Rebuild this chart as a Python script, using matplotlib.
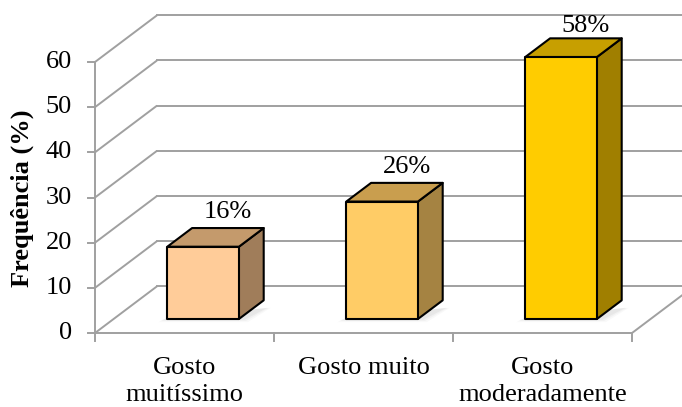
import matplotlib
matplotlib.use("Agg")
import matplotlib.pyplot as plt
from matplotlib.patches import Polygon

# Data
categories = ["Gosto\nmuitíssimo", "Gosto muito", "Gosto\nmoderadamente"]
values = [16, 26, 58]
value_labels = ["16%", "26%", "58%"]
y_ticks = [0, 10, 20, 30, 40, 50, 60]

# Styles
front_colors = ["#FFCC99", "#FFCC66", "#FFCC00"]
top_colors = ["#C49A6C", "#C99E4E", "#C79F00"]
side_colors = ["#A07D5A", "#A58342", "#A07F00"]
grid_color = "#A0A0A0"
serif = ["Liberation Serif", "DejaVu Serif"]
FS = 19

W, H = 682, 407
fig = plt.figure(figsize=(W / 100, H / 100), dpi=100)
# front plane of the plot: x 0..3 (categories), y 0..60 (values)
left_px, right_px, bottom_px, top_px = 95, 632, 333, 62
ax = fig.add_axes([left_px / W, 1 - bottom_px / H,
                   (right_px - left_px) / W, (bottom_px - top_px) / H])
ax.set_xlim(0, 3)
ax.set_ylim(0, 60)
ax.axis("off")

px_x = (right_px - left_px) / 3.0
px_y = (bottom_px - top_px) / 60.0
DX = 62 / px_x      # depth offset along x (data units)
DY = 46.7 / px_y    # depth offset along y (data units)

lw_grid = 1.4
# left wall diagonals and back wall gridlines
for v in y_ticks:
    ax.plot([0, DX], [v, v + DY], color=grid_color, lw=lw_grid,
            clip_on=False, zorder=1, solid_capstyle="butt")
    ax.plot([DX, 3 + DX], [v + DY, v + DY], color=grid_color, lw=lw_grid,
            clip_on=False, zorder=1)
# floor edges
ax.plot([0, 3], [0, 0], color=grid_color, lw=lw_grid, clip_on=False, zorder=1)
ax.plot([3, 3 + DX], [0, DY], color=grid_color, lw=lw_grid, clip_on=False, zorder=1)
# vertical axis
ax.plot([0, 0], [0, 60], color=grid_color, lw=lw_grid, clip_on=False, zorder=1)
tick_len = 7 / px_x
for v in y_ticks:
    ax.plot([-tick_len, 0], [v, v], color=grid_color, lw=lw_grid,
            clip_on=False, zorder=1)
    ax.text(-23 / px_x, v, str(v), ha="right", va="center",
            fontsize=FS, family=serif, color="black")
# category ticks
for i in range(4):
    ax.plot([i, i], [0, -8 / px_y], color=grid_color, lw=lw_grid,
            clip_on=False, zorder=1)

# bars
bw = 0.4
d0, d1 = 0.30, 0.70
for i, (v, lab) in enumerate(zip(values, value_labels)):
    c = i + 0.5
    x0 = c - bw / 2 + d0 * DX
    x1 = c + bw / 2 + d0 * DX
    y0 = d0 * DY
    y1 = v + d0 * DY
    ddx = (d1 - d0) * DX
    ddy = (d1 - d0) * DY
    # soft floor shadow
    for k, a in enumerate([0.05, 0.04, 0.03]):
        sh = Polygon([(x0 - 0.03 - 0.01 * k, y0 - 0.2 - 0.25 * k),
                      (x1 + 0.03 + 0.01 * k, y0 - 0.2 - 0.25 * k),
                      (x1 + ddx + 0.02 + 0.01 * k, y0 + ddy * 0.6),
                      (x0, y0 + 0.2)],
                     closed=True, facecolor="#404040", edgecolor="none", alpha=a,
                     zorder=2, clip_on=False)
        ax.add_patch(sh)
    front = Polygon([(x0, y0), (x1, y0), (x1, y1), (x0, y1)], closed=True,
                    facecolor=front_colors[i], edgecolor="black", lw=1.5,
                    joinstyle="round", zorder=4, clip_on=False)
    top = Polygon([(x0, y1), (x1, y1), (x1 + ddx, y1 + ddy), (x0 + ddx, y1 + ddy)],
                  closed=True, facecolor=top_colors[i], edgecolor="black", lw=1.5,
                  joinstyle="round", zorder=3, clip_on=False)
    side = Polygon([(x1, y0), (x1 + ddx, y0 + ddy), (x1 + ddx, y1 + ddy), (x1, y1)],
                   closed=True, facecolor=side_colors[i], edgecolor="black", lw=1.5,
                   joinstyle="round", zorder=3, clip_on=False)
    for p in (side, top, front):
        ax.add_patch(p)
    gap = (12 if v > 50 else 16) / px_y
    ax.text(c + d1 * DX, y1 + ddy + gap, lab,
            ha="center", va="center", fontsize=FS, family=serif, color="black",
            zorder=5)

# category labels
for i, cat in enumerate(categories):
    ax.text(i + 0.5, -24 / px_y, cat, ha="center", va="top", fontsize=FS,
            family=serif, linespacing=1.3, color="black")

# y axis title
fig.text(22 / W, 1 - 198 / H, "Frequência (%)", rotation=90, ha="center",
         va="center", fontsize=FS, fontweight="bold", family=serif)

fig.savefig("out.png", dpi=100)
